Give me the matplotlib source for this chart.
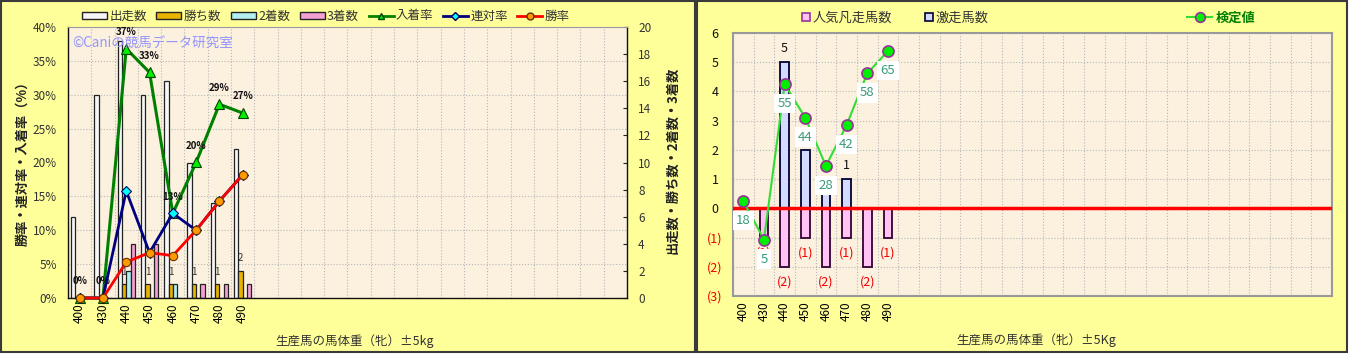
import matplotlib
matplotlib.use('Agg')
import matplotlib.pyplot as plt
from matplotlib.patches import Rectangle, Patch
from matplotlib.lines import Line2D
import numpy as np

plt.rcParams['font.family'] = ['Noto Sans CJK JP', 'DejaVu Sans']

# ---------------- data ----------------
categories = ['400', '430', '440', '450', '460', '470', '480', '490']
runs = [6, 15, 19, 15, 16, 10, 7, 11]          # 出走数
wins = [0, 0, 1, 1, 1, 1, 1, 2]                # 勝ち数
seconds = [0, 0, 2, 0, 1, 0, 0, 0]             # 2着数
thirds = [0, 0, 4, 4, 0, 1, 1, 1]              # 3着数
place_rate = [0, 0, 36.8, 33.3, 12.5, 20.0, 28.6, 27.3]   # 入着率
rentai_rate = [0, 0, 15.8, 6.7, 12.5, 10.0, 14.3, 18.2]   # 連対率
win_rate = [0, 0, 5.3, 6.7, 6.25, 10.0, 14.3, 18.2]       # 勝率
place_labels = ['0%', '0%', '37%', '33%', '13%', '20%', '29%', '27%']

gekiso = [0, 0, 5, 2, 1, 1, 0, 0]              # 激走馬数
bonso = [0, -1, -2, -1, -2, -1, -2, -1]        # 人気凡走馬数
kentei = [0.25, -1.07, 4.25, 3.1, 1.45, 2.85, 4.62, 5.38]  # 検定値
kentei_labels = ['18', '5', '55', '44', '28', '42', '58', '65']

# ---------------- figure ----------------
W, H = 1351, 355
fig = plt.figure(figsize=(W / 100, H / 100), dpi=100)
fig.patch.set_facecolor('white')


def fx(px):
    return px / W


def fy(py):
    return 1 - py / H


PANEL = '#FFFF99'
PLOTBG = '#FBF1DE'
GRID = '#B8B8B8'

fig.patches.append(Rectangle((fx(1), fy(352)), fx(695) - fx(1), (351) / H,
                             transform=fig.transFigure, facecolor=PANEL,
                             edgecolor='#3a3a3a', lw=1.5, zorder=-10))
fig.patches.append(Rectangle((fx(697), fy(352)), fx(1347) - fx(697), (351) / H,
                             transform=fig.transFigure, facecolor=PANEL,
                             edgecolor='#3a3a3a', lw=1.5, zorder=-10))

# ---------------- left chart ----------------
ax = fig.add_axes([fx(68), fy(298), fx(627 - 68), (298 - 27) / H])
ax2 = ax.twinx()
ax.set_facecolor(PLOTBG)
n_slots = 24
ax.set_xlim(-0.5, n_slots - 0.5)
ax.set_ylim(0, 20)
x = np.arange(len(categories))
w = 0.185
bar_kw = dict(edgecolor='#222222', lw=0.9, zorder=2)
ax.bar(x - 1.5 * w, runs, w, color='#F6F6F6', **bar_kw)
ax.bar(x - 0.5 * w, wins, w, color='#E8B400', **bar_kw)
ax.bar(x + 0.5 * w, seconds, w, color='#B4EEF2', **bar_kw)
ax.bar(x + 1.5 * w, thirds, w, color='#F4A0D4', **bar_kw)
for xi, v in zip(x, wins):
    if v > 0:
        ax.annotate(str(v), (xi - 0.5 * w, v), xytext=(0, 9), textcoords='offset points',
                    ha='center', va='center', fontsize=7, color='#333333', zorder=1)

ax.yaxis.tick_right()
ax.set_yticks(range(0, 21, 2))
ax.tick_params(axis='y', which='major', direction='in', length=3, pad=8,
               labelsize=8.5, labelcolor='#333333', color='#222222',
               left=False, labelleft=False, right=True, labelright=True)
ax.set_yticks(np.arange(0, 20.1, 2.5), minor=True)
ax.set_xticks(np.arange(-0.5, n_slots, 1), minor=True)
ax.grid(which='minor', color=GRID, ls=':', lw=0.8, zorder=0)
ax.set_axisbelow(True)
ax.tick_params(which='minor', length=0)
ax.set_xticks(x)
ax.set_xticklabels(categories, rotation=90, fontsize=8.5)
ax.tick_params(axis='x', which='major', length=0, pad=4)
for s in ['left', 'bottom', 'right']:
    ax.spines[s].set_color('#111111')
    ax.spines[s].set_linewidth(1.0)
ax.spines['top'].set_color('#999999')

ax2.yaxis.tick_left()
ax2.set_ylim(0, 40)
ax2.set_yticks(range(0, 41, 5))
ax2.set_yticklabels([f'{v}%' for v in range(0, 41, 5)])
ax2.tick_params(axis='y', length=0, pad=8, labelsize=8.5, labelcolor='#333333',
                left=True, labelleft=True, right=False, labelright=False)
for s in ax2.spines.values():
    s.set_visible(False)

ax2.plot(x, place_rate, color='#008000', lw=2.2, marker='^', ms=7, mfc='#00EE00',
         mec='#004400', mew=0.8, zorder=3, clip_on=False)
ax2.plot(x, rentai_rate, color='#000080', lw=2.0, marker='D', ms=5, mfc='#00FFFF',
         mec='#000060', mew=0.8, zorder=4, clip_on=False)
ax2.plot(x, win_rate, color='#FF0000', lw=2.0, marker='o', ms=6, mfc='#FF9900',
         mec='#663300', mew=0.8, zorder=5, clip_on=False)
for xi, v, lbl in zip(x, place_rate, place_labels):
    ax2.annotate(lbl, (xi, v), xytext=(0, 12), textcoords='offset points',
                 ha='center', va='center', fontsize=7, fontweight='bold', color='#111111')

handles = [Patch(facecolor='#F6F6F6', edgecolor='#222222'),
           Patch(facecolor='#E8B400', edgecolor='#222222'),
           Patch(facecolor='#B4EEF2', edgecolor='#222222'),
           Patch(facecolor='#F4A0D4', edgecolor='#222222'),
           Line2D([], [], color='#008000', lw=2, marker='^', ms=5, mfc='#00EE00', mec='#004400'),
           Line2D([], [], color='#000080', lw=2, marker='D', ms=4, mfc='#00FFFF', mec='#000060'),
           Line2D([], [], color='#FF0000', lw=2, marker='o', ms=5, mfc='#FF9900', mec='#663300')]
labels = ['出走数', '勝ち数', '2着数', '3着数', '入着率', '連対率', '勝率']
leg = fig.legend(handles, labels, loc='center left', bbox_to_anchor=(fx(82), fy(16)),
                 ncol=7, frameon=False, fontsize=9, handlelength=2.0, handleheight=0.5,
                 handletextpad=0.2, columnspacing=0.75, borderpad=0, borderaxespad=0)
for t in leg.get_texts():
    t.set_color('#333333')

fig.text(fx(72), fy(43), '©Caniの競馬データ研究室', color='#9494FF', fontsize=9.7,
         ha='left', va='center')
fig.text(fx(22), fy(160), '勝率・連対率・入着率（%）', rotation=90, ha='center', va='center',
         fontsize=9.5, fontweight='bold', color='#222222')
fig.text(fx(672), fy(160), '出走数・勝ち数・2着数・3着数', rotation=90, ha='center', va='center',
         fontsize=9.5, fontweight='bold', color='#222222')
fig.text(fx(355), fy(341), '生産馬の馬体重（牝）±5kg', ha='center', va='center',
         fontsize=9, color='#333333')

# ---------------- right chart ----------------
axr = fig.add_axes([fx(733), fy(296), fx(1332 - 733), (296 - 33) / H])
axr.set_facecolor(PLOTBG)
r_slots = 29
axr.set_xlim(-0.5, r_slots - 0.5)
axr.set_ylim(-3, 6)
bw = 0.42
axr.bar(x, gekiso, bw, color='#D4DAFF', edgecolor='#000033', lw=1.3, zorder=2)
axr.bar(x, bonso, bw, color='#FFC4F4', edgecolor='#330033', lw=1.3, zorder=2)
axr.axhline(0, color='#FF0000', lw=2.5, zorder=3)
for xi, v in zip(x, gekiso):
    if v > 0:
        axr.annotate(str(v), (xi, v), xytext=(0, 10), textcoords='offset points',
                     ha='center', va='center', fontsize=9, color='#111111', zorder=3)
for xi, v in zip(x, bonso):
    if v < 0:
        axr.annotate(f'({-v})', (xi, v), xytext=(0, -11), textcoords='offset points',
                     ha='center', va='center', fontsize=9, color='#EE0000', zorder=3)
axr.plot(x, kentei, color='#33DD33', lw=1.5, marker='o', ms=8, mfc='#00EE00',
         mec='#993399', mew=1.2, zorder=5)
for xi, v, lbl in zip(x, kentei, kentei_labels):
    axr.annotate(lbl, (xi, v), xytext=(0, -14), textcoords='offset points',
                 ha='center', va='center', fontsize=9.5, color='#3A9A7A', zorder=6,
                 bbox=dict(boxstyle='square,pad=0.25', facecolor='white', edgecolor='none'))

axr.set_yticks(range(-3, 7))
axr.set_yticklabels(['(3)', '(2)', '(1)', '0', '1', '2', '3', '4', '5', '6'])
for t, v in zip(axr.get_yticklabels(), range(-3, 7)):
    t.set_color('#EE0000' if v < 0 else '#111111')
    t.set_horizontalalignment('center')
axr.tick_params(axis='y', length=0, pad=13, labelsize=9)
axr.set_xticks(x)
axr.set_xticklabels(categories, rotation=90, fontsize=8.5)
axr.tick_params(axis='x', length=0, pad=4)
axr.set_xticks(np.arange(-0.5, r_slots, 1), minor=True)
axr.tick_params(which='minor', length=0)
axr.grid(which='minor', axis='x', color=GRID, ls=':', lw=0.8, zorder=0)
axr.grid(which='major', axis='y', color=GRID, ls=':', lw=0.8, zorder=0)
axr.set_axisbelow(True)
for s in axr.spines.values():
    s.set_color('#999999')
    s.set_linewidth(1.5)

h1 = [Line2D([], [], ls='', marker='s', ms=6, mfc='#FFC4F4', mec='#993399', mew=1.2),
      Line2D([], [], ls='', marker='s', ms=6, mfc='#D4DAFF', mec='#000033', mew=1.2)]
leg1 = fig.legend(h1, ['人気凡走馬数', '激走馬数'], loc='center left',
                  bbox_to_anchor=(fx(801), fy(18)), ncol=2, frameon=False, fontsize=9.5,
                  handlelength=0.7, handletextpad=0.2, columnspacing=2.4,
                  borderpad=0, borderaxespad=0)
for t in leg1.get_texts():
    t.set_color('#333333')
h2 = [Line2D([], [], color='#33DD33', lw=1.5, marker='o', ms=7, mfc='#00EE00',
             mec='#993399', mew=1.2)]
leg2 = fig.legend(h2, ['検定値'], loc='center left', bbox_to_anchor=(fx(1187), fy(18)),
                  frameon=False, fontsize=9.5, handlelength=1.9, handletextpad=0.3,
                  borderpad=0, borderaxespad=0)
for t in leg2.get_texts():
    t.set_color('#008000')
    t.set_fontweight('bold')

fig.text(fx(1036), fy(340), '生産馬の馬体重（牝）±5Kg', ha='center', va='center',
         fontsize=9, color='#333333')

fig.savefig('out.png', dpi=100, facecolor=fig.get_facecolor())
